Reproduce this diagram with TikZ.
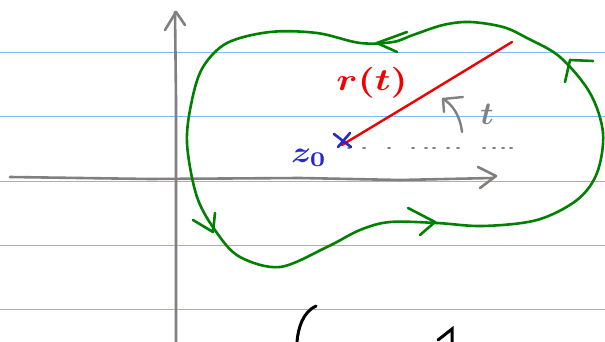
\documentclass[tikz,border=0pt]{standalone}
\usepackage{bm}
\usepackage{graphicx}
\begin{document}
\begin{tikzpicture}[x=1pt,y=-1pt,
  rule/.style={draw={rgb,255:red,130;green,185;blue,245},line width=1pt},
  axis/.style={draw={rgb,255:red,128;green,128;blue,128},line width=2.6pt,line cap=round,line join=round},
  curve/.style={draw={rgb,255:red,0;green,128;blue,0},line width=2.6pt,line cap=round,line join=round},
  ray/.style={draw={rgb,255:red,240;green,0;blue,0},line width=2.4pt,line cap=round},
  ink/.style={draw=black,line width=3pt,line cap=round},
  lab/.style={inner sep=0pt}]
\useasboundingbox (0,0) rectangle (605,342);
\fill[white] (0,0) rectangle (605,342);
% ruled lines
\foreach \yy in {53,117,181,245,309} \draw[rule] (0,\yy) -- (605,\yy);
% axes
\draw[axis] (176,342) -- (176,100) -- (175,12);
\draw[axis] (165,30) -- (176,12) -- (185,25);
\draw[axis] (10,177) -- (150,179) -- (300,178) -- (400,180) -- (493,178);
\draw[axis] (478,167) -- (496,176) -- (480,188);
% green contour
\draw[curve] plot[smooth cycle,tension=0.55] coordinates {
 (270,32) (317,33) (360,43) (393,42) (413,35) (443,25) (470,22) (503,27)
 (527,38) (560,57) (590,93) (603,133) (597,173) (577,200) (537,220) (483,226)
 (437,223) (390,222) (360,230) (327,247) (280,267) (240,257) (217,233) (197,197)
 (187,143) (192,100) (203,67) (227,43)};
\draw[curve] (407,32) -- (377,43) -- (397,52);
\draw[curve] (593,61) -- (570,60) -- (565,82);
\draw[curve] (408,208) -- (435,222) -- (420,235);
\draw[curve] (193,220) -- (213,232) -- (215,213);
% dotted ray
\foreach \xx in {348,363,388,412,425,433,447,457,483,493,502,510}
  \draw[axis,line width=2pt] (\xx,148) -- (\xx+2,148);
% red ray
\coordinate (z0) at (342,145);
\coordinate (end) at (512,42);
\draw[ray] (z0) -- (415,101) -- (end);
% cross at z0
\draw[draw={rgb,255:red,40;green,40;blue,200},line width=2.6pt,line cap=round] (334,134) -- (351,147) (350,133) -- (338,147);
% angle arrow
\draw[axis,line width=2.4pt] (462,132) .. controls (460,115) and (452,104) .. (443,99);
\draw[axis,line width=2.4pt] (463,97) -- (443,99) -- (444,112);
% labels
\node[lab,text={rgb,255:red,240;green,0;blue,0}] (rt) at (372,83) {\scalebox{3.8}[3.1]{$\bm{r(t)}$}};
\node[lab,text={rgb,255:red,128;green,128;blue,128}] (tl) at (487,114) {\scalebox{3.2}{$\bm{t}$}};
\node[lab,text={rgb,255:red,40;green,40;blue,200}] (zl) at (309,158) {\scalebox{3.4}[3.0]{$\bm{z_0}$}};
% bottom black strokes
\draw[ink] (316,306) .. controls (303,312) and (298,328) .. (297,342);
\draw[ink] (438,340) -- (452,329) -- (452,342);
\end{tikzpicture}
\end{document}
